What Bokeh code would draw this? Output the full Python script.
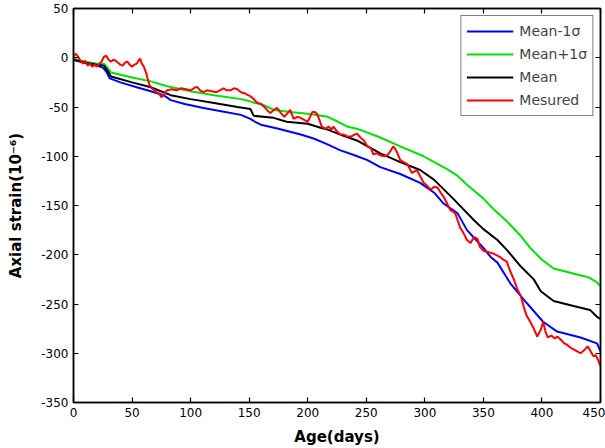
from bokeh.plotting import figure
from bokeh.models import LinearAxis, FixedTicker, Range1d, Legend, LegendItem
from bokeh.embed import file_html
from bokeh.resources import INLINE

# Simulated strain bands (days, micro-strain)
lower_days = [0, 10, 20, 25, 28, 31, 40, 54, 66, 77, 83, 95, 111, 125, 143, 151, 155, 160,
              175, 194, 205, 215, 228, 240, 251, 262, 279, 296, 308, 316, 328, 336, 343,
              350, 356, 362, 373, 387, 401, 413, 423, 433, 447, 450]
lower_vals = [-2, -5, -8, -10, -14, -21, -25, -30, -34, -38, -43, -47, -51, -54, -58, -62, -65,
              -68, -72, -78, -82, -87, -94, -99, -104, -111, -118, -127, -137, -148, -158,
              -175, -184, -193, -202, -208, -229, -249, -268, -278, -281, -284, -290, -298]

upper_days = [0, 10, 20, 26, 29, 32, 50, 66, 80, 100, 120, 143, 150, 155, 160, 166, 171, 185,
              202, 217, 226, 234, 242, 262, 279, 299, 308, 319, 328, 336, 350, 359, 370, 382,
              390, 400, 410, 420, 430, 440, 447, 450]
upper_vals = [-1, -4, -6, -6, -10, -15, -20, -24, -29, -34, -38, -42, -44, -46, -47, -50, -53,
              -55, -57, -60, -65, -70, -72, -81, -90, -100, -106, -113, -120, -129, -143, -154,
              -166, -181, -193, -205, -214, -217, -220, -223, -228, -232]

mean_days = [0, 10, 20, 26, 29, 32, 50, 66, 83, 100, 120, 140, 151, 154, 171, 182, 200, 211,
             217, 230, 242, 262, 279, 296, 308, 325, 342, 350, 362, 370, 382, 393, 399, 410,
             427, 441, 447, 450]
mean_vals = [-2, -5, -7, -8, -13, -19, -25, -30, -38, -42, -46, -50, -52, -59, -61, -65, -67,
             -71, -73, -79, -84, -97, -106, -114, -124, -144, -165, -174, -185, -195, -212,
             -225, -237, -247, -252, -256, -263, -265]

# Measured strain record
meas_days = [0, 2, 4, 6, 8, 10, 12, 14, 16, 18, 20, 22, 24, 26, 28, 30, 32, 34, 36, 38, 40,
             42, 44, 46, 48, 50, 52, 54, 56, 57, 58, 60, 62, 63, 65, 67, 69, 71, 73, 75, 77,
             79, 80, 84, 88, 92, 96, 100, 104, 106, 108, 111, 114, 118, 122, 125, 128, 131,
             134, 137, 140, 143, 146, 149, 151, 154, 157, 160, 163, 166, 168, 171, 174, 177,
             180, 183, 185, 188, 191, 194, 197, 200, 202, 204, 206, 208, 210, 212, 215, 218,
             220, 222, 225, 228, 231, 234, 237, 240, 242, 245, 248, 251, 254, 256, 259, 262,
             265, 268, 271, 273, 275, 277, 279, 282, 285, 289, 293, 296, 299, 302, 305, 308,
             311, 314, 316, 319, 322, 324, 326, 328, 330, 333, 336, 339, 342, 345, 347, 350,
             353, 356, 359, 362, 365, 367, 370, 373, 376, 379, 382, 385, 387, 390, 393, 396,
             399, 401, 403, 405, 408, 411, 413, 416, 419, 421, 424, 427, 430, 433, 436, 439,
             442, 444, 446, 448, 450]
meas_vals = [2, 4, 1, -3, -6, -3, -8, -6, -9, -7, -9, -6, -4, 1, 2, -2, -4, -2, -3, -5, -7,
             -8, -5, -4, -7, -9, -7, -6, -2, -1, -5, -9, -15, -20, -28, -31, -33, -35, -36, -40,
             -38, -34, -33, -32, -33, -31, -32, -33, -30, -30, -33, -35, -33, -34, -35, -33,
             -31, -33, -33, -31, -32, -35, -36, -38, -39, -42, -46, -47, -50, -54, -56, -53,
             -51, -56, -60, -56, -53, -62, -60, -61, -63, -65, -60, -55, -55, -57, -63, -70,
             -72, -70, -73, -70, -75, -78, -78, -80, -80, -78, -77, -81, -84, -90, -92, -98,
             -97, -99, -100, -99, -94, -90, -93, -98, -104, -106, -108, -117, -114, -120,
             -127, -130, -134, -131, -132, -138, -141, -148, -155, -156, -158, -165, -172,
             -178, -185, -188, -182, -184, -192, -196, -197, -198, -199, -201, -203, -205,
             -207, -217, -225, -235, -242, -255, -262, -268, -275, -283, -276, -268, -278,
             -284, -282, -285, -283, -286, -290, -291, -294, -296, -298, -300, -297, -293,
             -299, -303, -302, -307, -313]

x_ticks = [0, 50, 100, 150, 200, 250, 300, 350, 400, 450]
y_ticks = [50, 0, -50, -100, -150, -200, -250, -300, -350]

FONT = "DejaVu Sans"

p = figure(width=605, height=448, output_backend="svg", toolbar_location=None,
           x_range=Range1d(0, 450), y_range=Range1d(-350, 50),
           min_border_left=73, min_border_right=5, min_border_top=8, min_border_bottom=45,
           background_fill_color="white", border_fill_color="white")
p.grid.visible = False
p.outline_line_color = "black"
p.outline_line_width = 1.5

for ax, ticks in ((p.xaxis[0], x_ticks), (p.yaxis[0], y_ticks)):
    ax.ticker = FixedTicker(ticks=ticks)
    ax.major_label_overrides = {t: str(t) for t in ticks}  # plain ASCII hyphen
    ax.axis_line_color = "black"
    ax.axis_line_width = 1.5
    ax.major_tick_in = 5
    ax.major_tick_out = 0
    ax.major_tick_line_width = 1.2
    ax.minor_tick_line_color = None
    ax.major_label_text_font = FONT
    ax.major_label_text_font_size = "12px"
    ax.major_label_text_color = "black"
    ax.major_label_standoff = 5
    ax.axis_label_text_font = FONT
    ax.axis_label_text_font_size = "15px"
    ax.axis_label_text_font_style = "bold"
    ax.axis_label_text_color = "black"

p.xaxis[0].axis_label = "Age(days)"
p.xaxis[0].axis_label_standoff = 8
p.yaxis[0].axis_label = "Axial strain(10\u207b\u2076)"
p.yaxis[0].axis_label_standoff = 13

# box-style frame: unlabeled axes with inward ticks on top and right
for side, ticks in (("above", x_ticks), ("right", y_ticks)):
    ax = LinearAxis(ticker=FixedTicker(ticks=ticks))
    ax.major_label_text_color = None
    ax.major_label_standoff = 0
    ax.major_tick_in = 5
    ax.major_tick_out = 0
    ax.major_tick_line_width = 1.2
    ax.minor_tick_line_color = None
    ax.axis_line_width = 1.5
    p.add_layout(ax, side)

r_low = p.line(lower_days, lower_vals, line_color="#0000ff", line_width=2)
r_up = p.line(upper_days, upper_vals, line_color="#00e000", line_width=2)
r_mean = p.line(mean_days, mean_vals, line_color="black", line_width=2)
r_meas = p.line(meas_days, meas_vals, line_color="#ff0000", line_width=2)

legend = Legend(items=[
    LegendItem(label="Mean-1\u03c3", renderers=[r_low]),
    LegendItem(label="Mean+1\u03c3", renderers=[r_up]),
    LegendItem(label="Mean", renderers=[r_mean]),
    LegendItem(label="Mesured", renderers=[r_meas]),
], location="top_right")
legend.margin = 7
legend.padding = 5
legend.spacing = 3
legend.glyph_width = 47
legend.glyph_height = 20
legend.label_height = 20
legend.label_standoff = 6
legend.label_text_font = FONT
legend.label_text_font_size = "14px"
legend.border_line_color = "black"
legend.border_line_width = 1.2
legend.background_fill_color = "white"
legend.background_fill_alpha = 1
p.add_layout(legend, "center")

open("out.html", "w").write(file_html(p, INLINE))
